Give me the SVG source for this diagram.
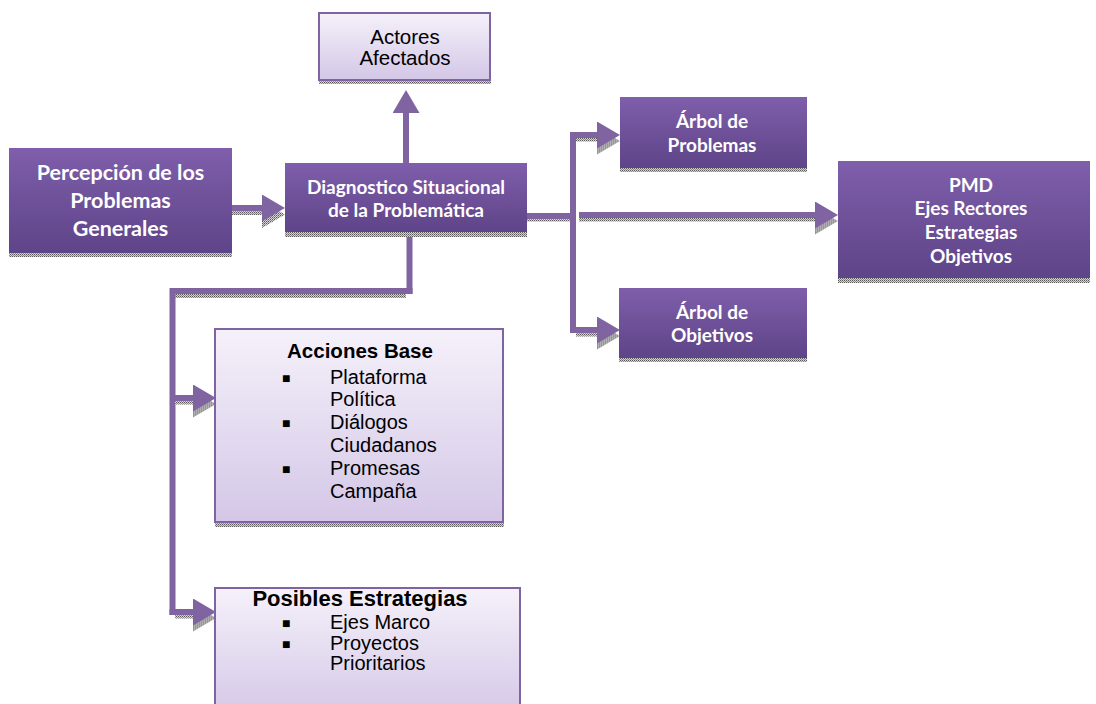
<svg xmlns="http://www.w3.org/2000/svg" width="1096" height="704" viewBox="0 0 1096 704">
<defs>
<linearGradient id="dark" x1="0" y1="0" x2="0" y2="1">
<stop offset="0" stop-color="#7f5eab"/>
<stop offset="1" stop-color="#5e4488"/>
</linearGradient>
<linearGradient id="light" x1="0" y1="0" x2="0" y2="1">
<stop offset="0" stop-color="#f5f1fa"/>
<stop offset="1" stop-color="#d4c7e7"/>
</linearGradient>
<pattern id="dots" width="2" height="2" patternUnits="userSpaceOnUse">
<rect width="2" height="2" fill="#d4d4d4"/>
<rect width="1" height="1" fill="#585858"/>
<rect x="1" y="1" width="1" height="1" fill="#8a8a8a"/>
</pattern>
<marker id="head" markerUnits="userSpaceOnUse" markerWidth="24" markerHeight="28" refX="0" refY="13.5" orient="auto">
<path d="M0,0 L23,13.5 L0,27 z" fill="#8064a2"/>
</marker>
<marker id="headS" markerUnits="userSpaceOnUse" markerWidth="26" markerHeight="31" refX="0" refY="12" orient="auto">
<path d="M0,0 L23,13.5 L0,27 z" fill="url(#dots)"/>
</marker>
</defs>
<style>
.dk{fill:url(#dark)}
.lt{fill:url(#light);stroke:#8064a2;stroke-width:2}
.sh{fill:url(#dots)}
.tw{font-family:Lato,"Open Sans",sans-serif;font-weight:bold;fill:#ffffff;text-anchor:middle}
.tb{font-family:"Liberation Sans",Arial,sans-serif;fill:#000000}
.bu{font-family:"Liberation Sans",Arial,sans-serif;fill:#000000;font-size:14px}
.c{fill:none;stroke:#8064a2;stroke-width:6}
.cs{fill:none;stroke:url(#dots);stroke-width:4}
</style>
<rect width="1096" height="704" fill="#ffffff"/>

<g id="connectors">
<path class="cs" d="M232,213 H262" marker-end="url(#headS)"/>
<path class="c" d="M232,208 H262" stroke-width="5" marker-end="url(#head)"/>
<path class="c" d="M406,163 V113" marker-end="url(#head)"/>
<path class="cs" d="M527,219.5 H570"/>
<path class="c" d="M527,216 H573" stroke-width="3"/>
<path class="cs" d="M579,219.5 H815" marker-end="url(#headS)"/>
<path class="c" d="M579,215 H815" stroke-width="4.5" marker-end="url(#head)"/>
<path class="c" d="M573,132 V333"/>
<path class="cs" d="M576,139.5 H597" marker-end="url(#headS)"/>
<path class="c" d="M570,135 H597" marker-end="url(#head)"/>
<path class="cs" d="M576,334.5 H597" marker-end="url(#headS)"/>
<path class="c" d="M573,330 H597" marker-end="url(#head)"/>
<path class="cs" d="M406,296 H175"/>
<path class="c" d="M412.5,291 H172.5 V615"/>
<path class="c" d="M409.5,232 V294" stroke="#7030a0" stroke-width="7"/>
<path class="cs" d="M175,402.5 H193" marker-end="url(#headS)"/>
<path class="c" d="M172.5,398 H193" marker-end="url(#head)"/>
<path class="cs" d="M175,616.5 H193" marker-end="url(#headS)"/>
<path class="c" d="M169.5,612 H193" marker-end="url(#head)"/>
</g>

<g id="percepcion">
<rect class="sh" x="9" y="253" width="223" height="4"/>
<rect class="dk" x="9" y="148" width="223" height="105"/>
<text class="tw" font-size="21.5" x="120.5" y="180">Percepción de los</text>
<text class="tw" font-size="21.5" x="120.5" y="208">Problemas</text>
<text class="tw" font-size="21.5" x="120.5" y="236">Generales</text>
</g>

<g id="diagnostico">
<rect class="sh" x="285" y="232" width="242" height="5"/>
<rect class="dk" x="285" y="163" width="242" height="69"/>
<text class="tw" font-size="19" x="406" y="194">Diagnostico Situacional</text>
<text class="tw" font-size="19" x="406" y="217">de la Problemática</text>
</g>

<g id="actores">
<rect class="sh" x="319" y="80" width="172" height="4"/>
<rect class="lt" x="319" y="13" width="171" height="67"/>
<text class="tb" font-size="20.5" text-anchor="middle" x="405" y="44">Actores</text>
<text class="tb" font-size="20.5" text-anchor="middle" x="405" y="65">Afectados</text>
</g>

<g id="arbol-problemas">
<rect class="sh" x="620" y="168" width="187" height="4"/>
<rect class="dk" x="620" y="97" width="187" height="71"/>
<text class="tw" font-size="19" x="712" y="128">Árbol de</text>
<text class="tw" font-size="19" x="712" y="152">Problemas</text>
</g>

<g id="arbol-objetivos">
<rect class="sh" x="619" y="358" width="188" height="4"/>
<rect class="dk" x="619" y="288" width="188" height="70"/>
<text class="tw" font-size="19" x="712" y="319">Árbol de</text>
<text class="tw" font-size="19" x="712" y="342">Objetivos</text>
</g>

<g id="pmd">
<rect class="sh" x="838" y="278" width="252" height="5"/>
<rect class="dk" x="838" y="161" width="252" height="117"/>
<text class="tw" font-size="19" x="971" y="192">PMD</text>
<text class="tw" font-size="19" x="971" y="215">Ejes Rectores</text>
<text class="tw" font-size="19" x="971" y="239">Estrategias</text>
<text class="tw" font-size="19" x="971" y="263">Objetivos</text>
</g>

<g id="acciones-base">
<rect class="sh" x="215" y="522" width="289" height="5"/>
<rect class="lt" x="215" y="329" width="288" height="193"/>
<text class="tb" font-size="20.5" font-weight="bold" text-anchor="middle" x="360" y="358">Acciones Base</text>
<text class="bu" x="282" y="383">■</text>
<text class="tb" font-size="20" x="330" y="384">Plataforma</text>
<text class="tb" font-size="20" x="330" y="406">Política</text>
<text class="bu" x="282" y="428">■</text>
<text class="tb" font-size="20" x="330" y="429">Diálogos</text>
<text class="tb" font-size="20" x="330" y="452">Ciudadanos</text>
<text class="bu" x="282" y="474">■</text>
<text class="tb" font-size="20" x="330" y="475">Promesas</text>
<text class="tb" font-size="20" x="330" y="498">Campaña</text>
</g>

<g id="posibles-estrategias">
<rect class="lt" x="215" y="588" width="305" height="130"/>
<text class="tb" font-size="22" font-weight="bold" text-anchor="middle" x="360" y="606">Posibles Estrategias</text>
<text class="bu" x="282" y="628">■</text>
<text class="tb" font-size="20" x="330" y="629">Ejes Marco</text>
<text class="bu" x="282" y="649">■</text>
<text class="tb" font-size="20" x="330" y="650">Proyectos</text>
<text class="tb" font-size="20" x="330" y="670">Prioritarios</text>
</g>
</svg>
